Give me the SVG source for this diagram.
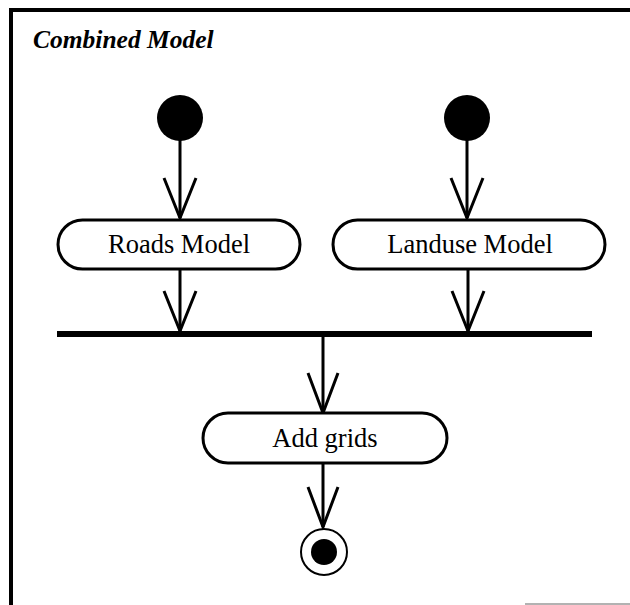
<svg xmlns="http://www.w3.org/2000/svg" width="630" height="605" viewBox="0 0 630 605">
  <defs>
    <style>
      .frame { fill: none; stroke: #000; stroke-width: 4; }
      .action { fill: #fff; stroke: #000; stroke-width: 3; }
      .label { font-family: "Liberation Serif", "Times New Roman", serif; font-size: 26.5px; fill: #000; text-anchor: middle; }
      .title { font-family: "Liberation Serif", "Times New Roman", serif; font-size: 25.5px; font-weight: bold; font-style: italic; fill: #000; }
      .flow { fill: none; stroke: #000; stroke-width: 3; }
      .head { fill: none; stroke: #000; stroke-width: 3; stroke-linejoin: miter; }
      .bar { stroke: #000; stroke-width: 6; }
    </style>
  </defs>

  <rect width="630" height="605" fill="#fff"/>

  <!-- outer activity frame (open at right) -->
  <g id="frame">
    <path class="frame" d="M11,605 V10 H630"/>
    <line x1="525" y1="604" x2="630" y2="604" stroke="#999" stroke-width="1.5"/>
    <text class="title" x="33" y="48">Combined Model</text>
  </g>

  <!-- connectors -->
  <g id="connectors">
    <line class="flow" x1="180" y1="140" x2="180" y2="218"/>
    <polyline class="head" points="164,178 180,218 196,178"/>
    <line class="flow" x1="467" y1="140" x2="467" y2="218"/>
    <polyline class="head" points="451,178 467,218 483,178"/>

    <line class="flow" x1="180" y1="269" x2="180" y2="331"/>
    <polyline class="head" points="164,291 180,331 196,291"/>
    <line class="flow" x1="468" y1="269" x2="468" y2="331"/>
    <polyline class="head" points="452,291 468,331 484,291"/>

    <line class="flow" x1="323" y1="337" x2="323" y2="413"/>
    <polyline class="head" points="308,373 323,413 338,373"/>

    <line class="flow" x1="323" y1="463" x2="323" y2="527"/>
    <polyline class="head" points="308,487 323,527 338,487"/>
  </g>

  <g id="start-roads">
    <circle cx="180" cy="118" r="23" fill="#000"/>
  </g>
  <g id="start-landuse">
    <circle cx="467" cy="118" r="23" fill="#000"/>
  </g>

  <g id="roads-model">
    <rect class="action" x="58" y="220" width="242" height="49" rx="24.5"/>
    <text class="label" x="179" y="253">Roads Model</text>
  </g>
  <g id="landuse-model">
    <rect class="action" x="333" y="220" width="272" height="49" rx="24.5"/>
    <text class="label" x="470" y="253">Landuse Model</text>
  </g>

  <g id="join-bar">
    <line class="bar" x1="57" y1="334" x2="592" y2="334"/>
  </g>

  <g id="add-grids">
    <rect class="action" x="203" y="413" width="244" height="50" rx="25"/>
    <text class="label" x="325" y="447">Add grids</text>
  </g>

  <g id="end">
    <circle cx="324" cy="552" r="23" fill="#fff" stroke="#000" stroke-width="2"/>
    <circle cx="324" cy="552" r="13" fill="#000"/>
  </g>
</svg>
